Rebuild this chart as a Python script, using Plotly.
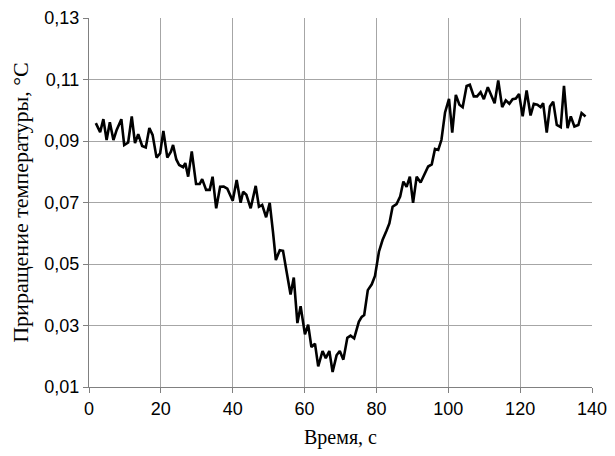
import plotly.graph_objects as go

time_s = [1.9, 3.1, 4.0, 4.9, 5.8, 6.8, 7.7, 9.0, 9.8, 10.9, 11.9, 12.8, 13.7, 14.8, 15.8,
          16.8, 17.7, 18.8, 19.8, 20.7, 21.8, 22.8, 23.4, 24.3, 25.1, 26.2, 26.8, 27.6, 28.6,
          29.8, 30.8, 31.5, 32.6, 33.6, 34.4, 35.4, 36.5, 37.5, 38.5, 40.0, 41.1, 42.2, 42.9,
          43.8, 45.0, 46.4, 47.3, 48.2, 49.3, 50.3, 51.2, 52.0, 53.1, 54.0, 55.0, 56.1, 57.0,
          58.0, 58.9, 60.1, 61.0, 61.9, 62.9, 63.8, 65.0, 65.9, 66.9, 67.8, 68.9, 69.8, 70.8,
          71.9, 72.8, 73.8, 75.1, 75.9, 76.6, 77.6, 78.7, 79.6, 80.7, 81.7, 82.8, 83.6, 84.5,
          85.6, 86.6, 87.5, 88.4, 89.3, 90.2, 91.2, 92.3, 93.5, 94.4, 95.4, 96.3, 97.2, 98.1,
          99.1, 100.2, 101.1, 102.1, 103.1, 104.0, 105.1, 106.0, 107.1, 108.0, 109.0, 109.9,
          111.0, 112.0, 112.9, 113.9, 115.0, 116.0, 117.0, 117.9, 118.8, 119.7, 120.7, 121.8,
          122.9, 123.8, 124.8, 125.7, 126.4, 127.4, 128.3, 129.2, 130.2, 131.3, 132.2, 133.2,
          134.1, 135.1, 136.2, 137.1, 138.2]

delta_t = [0.0958, 0.0929, 0.0971, 0.0903, 0.0961, 0.0903, 0.0936, 0.0971, 0.0887, 0.0895,
           0.0980, 0.0893, 0.0922, 0.0884, 0.0879, 0.0942, 0.0920, 0.0846, 0.0860, 0.0933,
           0.0846, 0.0865, 0.0887, 0.0840, 0.0822, 0.0815, 0.0828, 0.0784, 0.0866, 0.0760,
           0.0760, 0.0776, 0.0741, 0.0741, 0.0784, 0.0681, 0.0751, 0.0752, 0.0745, 0.0706,
           0.0773, 0.0699, 0.0735, 0.0725, 0.0681, 0.0754, 0.0686, 0.0692, 0.0652, 0.0699,
           0.0605, 0.0513, 0.0545, 0.0543, 0.0475, 0.0401, 0.0456, 0.0308, 0.0363, 0.0271,
           0.0303, 0.0230, 0.0241, 0.0167, 0.0217, 0.0194, 0.0217, 0.0149, 0.0203, 0.0217,
           0.0189, 0.0260, 0.0267, 0.0258, 0.0312, 0.0328, 0.0334, 0.0415, 0.0434, 0.0461,
           0.0540, 0.0578, 0.0608, 0.0632, 0.0686, 0.0695, 0.0719, 0.0768, 0.0751, 0.0784,
           0.0699, 0.0784, 0.0765, 0.0795, 0.0817, 0.0824, 0.0874, 0.0871, 0.0904, 0.0993,
           0.1037, 0.0927, 0.1050, 0.1018, 0.1010, 0.1079, 0.1083, 0.1045, 0.1045, 0.1059,
           0.1036, 0.1075, 0.1050, 0.1023, 0.1097, 0.1010, 0.1032, 0.1021, 0.1036, 0.1038,
           0.1053, 0.0980, 0.1064, 0.0983, 0.1021, 0.1018, 0.1010, 0.1023, 0.0927, 0.1012,
           0.1028, 0.0952, 0.0945, 0.1079, 0.0942, 0.0980, 0.0947, 0.0952, 0.0991, 0.0980]

x_ticks = [0, 20, 40, 60, 80, 100, 120, 140]
y_ticks = [0.01, 0.03, 0.05, 0.07, 0.09, 0.11, 0.13]

fig = go.Figure()
fig.add_trace(go.Scatter(x=time_s, y=delta_t, mode="lines",
                         line=dict(color="black", width=2.6), showlegend=False))

tick_font = dict(family="Liberation Sans, Arial", size=18, color="black")
x_title_font = dict(family="Liberation Serif, Times New Roman", size=20, color="black")
y_title_font = dict(family="Liberation Serif, Times New Roman", size=22, color="black")

# page body has an 8px margin; the figure is sized/margined to compensate
fig.update_layout(
    width=607, height=448,
    margin=dict(l=81, r=23, t=10, b=69, autoexpand=False),
    paper_bgcolor="white", plot_bgcolor="white",
    separators=", ",
    xaxis=dict(range=[0, 140], tickvals=x_ticks, showgrid=True, gridcolor="#a6a6a6",
               gridwidth=1, showline=True, linecolor="#808080", linewidth=1,
               ticks="outside", ticklen=5, tickcolor="#808080", tickfont=tick_font,
               zeroline=False, automargin=False,
               title=dict(text="Время, с", font=x_title_font, standoff=12)),
    yaxis=dict(range=[0.01, 0.13], tickvals=y_ticks, tickformat=".2f", showgrid=True,
               gridcolor="#a6a6a6", gridwidth=1, showline=True, linecolor="#808080",
               linewidth=1, ticks="outside", ticklen=5, tickcolor="#808080",
               tickfont=tick_font, zeroline=False, automargin=False,
               title=dict(text="Приращение температуры, °С", font=y_title_font, standoff=11)),
)

fig.write_html("out.html")
